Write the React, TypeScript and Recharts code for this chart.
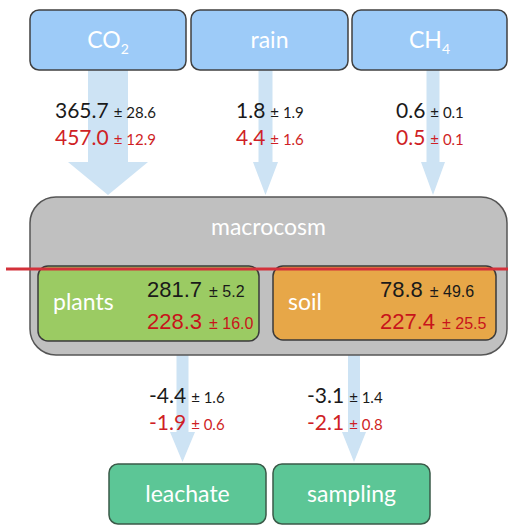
import React from "react";
import {
  ComposedChart,
  XAxis,
  YAxis,
  Scatter,
  ReferenceArea,
  ReferenceLine,
} from "recharts";

/* ── values ───────────────────────────────────────────────── */

const fluxes = ["CO2", "rain", "CH4", "leachate", "sampling"];
const fluxMeanA = [365.7, 1.8, 0.6, -4.4, -3.1];
const fluxSdA = [28.6, 1.9, 0.1, 1.6, 1.4];
const fluxMeanB = [457.0, 4.4, 0.5, -1.9, -2.1];
const fluxSdB = [12.9, 1.6, 0.1, 0.6, 0.8];

const pools = ["plants", "soil"];
const poolMeanA = [281.7, 78.8];
const poolSdA = [5.2, 49.6];
const poolMeanB = [228.3, 227.4];
const poolSdB = [16.0, 25.5];

/* ── layout (diagram units) ───────────────────────────────── */

const W = 508;
const H = 528;

const sourceBoxes = [
  { x1: 30, x2: 186, y1: 10, y2: 70 },
  { x1: 191, x2: 348, y1: 10, y2: 70 },
  { x1: 352, x2: 507, y1: 10, y2: 70 },
];
const sinkBoxes = [
  { x1: 109, x2: 266, y1: 464, y2: 524 },
  { x1: 273, x2: 430, y1: 464, y2: 524 },
];
const macroBox = { x1: 30, x2: 507, y1: 197, y2: 355 };
const poolBoxes = [
  { x1: 38, x2: 259, y1: 266, y2: 341, fill: "#9bcb63" },
  { x1: 273, x2: 496, y1: 266, y2: 340, fill: "#e7a748" },
];
const arrows = [
  { x1: 68, x2: 148, y1: 70, y2: 195, shaft: 40, head: 33 },
  { x1: 253, x2: 278, y1: 70, y2: 195, shaft: 14, head: 33 },
  { x1: 421, x2: 445, y1: 70, y2: 195, shaft: 13, head: 33 },
  { x1: 170, x2: 195, y1: 355, y2: 462, shaft: 12, head: 30 },
  { x1: 342, x2: 366, y1: 355, y2: 462, shaft: 12, head: 30 },
];
const fluxLabelX = [55, 236, 396, 149, 307];
const fluxLabelY = [118, 118, 118, 403, 403];

const BLACK = "#1a1a1a";
const RED = "#cf1f26";
const LABEL_FONT = "Lato, 'Open Sans', sans-serif";
const NUM_FONT = "'Liberation Sans', Arial, sans-serif";

const fluxData = fluxes.map((name, i) => ({
  name,
  x: fluxLabelX[i],
  y: fluxLabelY[i],
  a: fluxMeanA[i].toFixed(1),
  sa: fluxSdA[i].toFixed(1),
  b: fluxMeanB[i].toFixed(1),
  sb: fluxSdB[i].toFixed(1),
}));

/* ── shapes ───────────────────────────────────────────────── */

function ArrowShape({ x, y, width, height, shaft, head }: any) {
  const cx = x + width / 2;
  const base = y + height - head;
  const pts = [
    [cx - shaft / 2, y],
    [cx + shaft / 2, y],
    [cx + shaft / 2, base],
    [x + width, base],
    [cx, y + height],
    [x, base],
    [cx - shaft / 2, base],
  ]
    .map((p) => p.join(","))
    .join(" ");
  return <polygon points={pts} fill="#cde3f4" />;
}

function RoundBox({ x, y, width, height, fill, r, stroke, label, sub }: any) {
  return (
    <g>
      <rect
        x={x}
        y={y}
        width={width}
        height={height}
        rx={r}
        ry={r}
        fill={fill}
        stroke={stroke}
        strokeWidth={1.5}
      />
      {label && (
        <text
          x={x + width / 2}
          y={y + height / 2 + 8}
          textAnchor="middle"
          fill="#fff"
          fontFamily={LABEL_FONT}
          fontSize={23}
        >
          {label}
          {sub && (
            <tspan fontSize={14} dy={6}>
              {sub}
            </tspan>
          )}
        </text>
      )}
    </g>
  );
}

function PoolBox(props: any) {
  const { x, y, i } = props;
  const nx = x + (i === 0 ? 109 : 107);
  return (
    <g>
      <RoundBox {...props} r={10} stroke="#3a3a3a" />
      <text x={x + 15} y={y + 44} fill="#fff" fontFamily={LABEL_FONT} fontSize={23}>
        {pools[i]}
      </text>
      <text x={nx} y={y + 31} fontFamily={NUM_FONT} fill={BLACK}>
        <tspan fontSize={22}>{poolMeanA[i].toFixed(1)}</tspan>
        <tspan fontSize={16} dx={7}>± {poolSdA[i].toFixed(1)}</tspan>
      </text>
      <text x={nx} y={y + 63} fontFamily={NUM_FONT} fill="#c8141b">
        <tspan fontSize={22}>{poolMeanB[i].toFixed(1)}</tspan>
        <tspan fontSize={16} dx={7}>± {poolSdB[i].toFixed(1)}</tspan>
      </text>
    </g>
  );
}

function FluxLabel({ cx, cy, payload }: any) {
  return (
    <g fontFamily={LABEL_FONT}>
      <text x={cx} y={cy} fill={BLACK}>
        <tspan fontSize={21}>{payload.a}</tspan>
        <tspan fontSize={15} dx={5}>± {payload.sa}</tspan>
      </text>
      <text x={cx} y={cy + 27} fill={RED}>
        <tspan fontSize={21}>{payload.b}</tspan>
        <tspan fontSize={15} dx={5}>± {payload.sb}</tspan>
      </text>
    </g>
  );
}

const sourceLabels: [string, string | null][] = [
  ["CO", "2"],
  ["rain", null],
  ["CH", "4"],
];

/* ── chart ────────────────────────────────────────────────── */

export default function App() {
  return (
    <div style={{ position: "absolute", left: 0, top: 0, background: "#fff" }}>
      <ComposedChart
        width={W}
        height={H}
        margin={{ top: 0, right: 0, bottom: 0, left: 0 }}
      >
        <XAxis type="number" dataKey="x" domain={[0, W]} hide allowDataOverflow />
        <YAxis
          type="number"
          dataKey="y"
          domain={[0, H]}
          reversed
          hide
          allowDataOverflow
        />

        {arrows.map((a, i) => (
          <ReferenceArea
            key={`arrow-${i}`}
            x1={a.x1}
            x2={a.x2}
            y1={a.y1}
            y2={a.y2}
            shape={(p: any) => <ArrowShape {...p} shaft={a.shaft} head={a.head} />}
          />
        ))}

        {sourceBoxes.map((b, i) => (
          <ReferenceArea
            key={`src-${i}`}
            {...b}
            shape={(p: any) => (
              <RoundBox
                {...p}
                fill="#9dcbf8"
                stroke="#404040"
                r={9}
                label={sourceLabels[i][0]}
                sub={sourceLabels[i][1]}
              />
            )}
          />
        ))}

        <ReferenceArea
          {...macroBox}
          shape={(p: any) => (
            <g>
              <RoundBox {...p} fill="#c0c0c0" stroke="#555" r={26} />
              <text
                x={p.x + p.width / 2}
                y={p.y + 38}
                textAnchor="middle"
                fill="#fff"
                fontFamily={LABEL_FONT}
                fontSize={23}
              >
                macrocosm
              </text>
            </g>
          )}
        />

        {poolBoxes.map((b, i) => (
          <ReferenceArea
            key={`pool-${i}`}
            x1={b.x1}
            x2={b.x2}
            y1={b.y1}
            y2={b.y2}
            shape={(p: any) => <PoolBox {...p} fill={b.fill} i={i} />}
          />
        ))}

        {sinkBoxes.map((b, i) => (
          <ReferenceArea
            key={`sink-${i}`}
            {...b}
            shape={(p: any) => (
              <RoundBox
                {...p}
                fill="#5cc696"
                stroke="#3a5a48"
                r={9}
                label={fluxes[3 + i]}
              />
            )}
          />
        ))}

        <ReferenceLine
          segment={[
            { x: 6, y: 269 },
            { x: W, y: 269 },
          ]}
          stroke="#d3313a"
          strokeWidth={3}
        />

        <Scatter
          data={fluxData}
          dataKey="y"
          shape={(p: any) => <FluxLabel {...p} />}
          isAnimationActive={false}
        />
      </ComposedChart>
    </div>
  );
}
